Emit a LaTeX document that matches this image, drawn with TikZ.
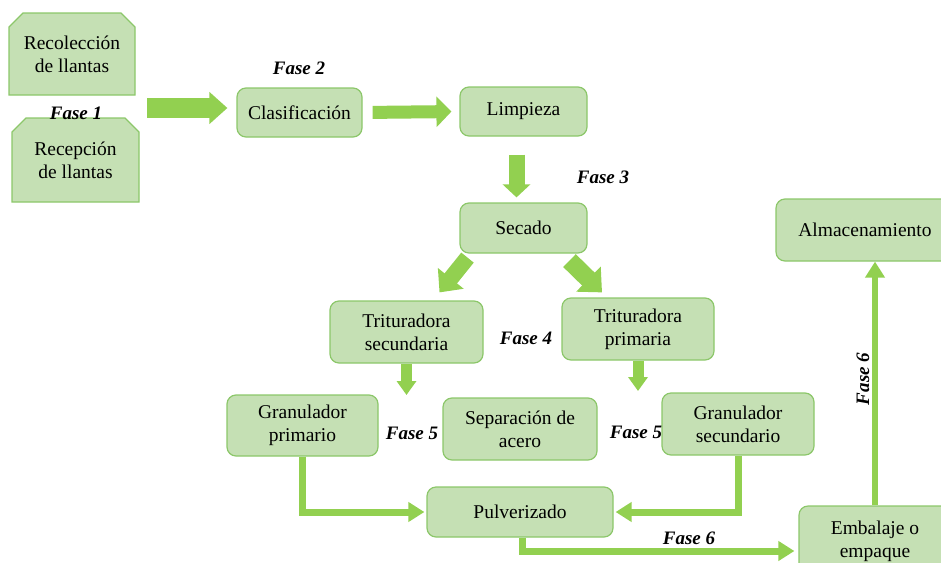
\documentclass[tikz,border=0pt]{standalone}
\usepackage{fontspec}
\setmainfont{Liberation Serif}
\usetikzlibrary{arrows.meta, shapes.misc}
\definecolor{boxfill}{HTML}{C5E0B4}
\definecolor{boxline}{HTML}{8CC76A}
\definecolor{arrowgreen}{HTML}{92D050}

\begin{document}
\begin{tikzpicture}[x=1pt, y=-1pt,
    box/.style={draw=boxline, fill=boxfill, line width=1.2pt, rounded corners=9pt, align=center, inner sep=0pt, font=\fontsize{19.5}{23}\selectfont},
    snipbox/.style={draw=boxline, fill=boxfill, line width=1.2pt, chamfered rectangle, chamfered rectangle corners={north west, north east}, chamfered rectangle xsep=11pt, align=center, inner sep=0pt, font=\fontsize{19.5}{23}\selectfont},
    fase/.style={font=\fontsize{19}{22}\selectfont\bfseries\itshape, inner sep=0pt},
    fat/.style n args={3}{draw=arrowgreen, line width=#1, -{Triangle[width=#2, length=#3]}},
    flow/.style={draw=arrowgreen, line width=7pt, -{Triangle[width=19pt, length=16pt]}}
    ]
    % Fix the page and cut the boxes that run over the edge
    \useasboundingbox (0,0) rectangle (941,562);
    \clip (0,0) rectangle (941,562);

    % Draw the boxes
    \node[snipbox, minimum width=126pt, minimum height=82pt] (recol) at (72,54) {Recolección\\de llantas};
    \node[snipbox, minimum width=127pt, minimum height=84pt] (recep) at (75.5,160) {Recepción\\de llantas};
    \node[box, minimum width=125pt, minimum height=49pt] (cla) at (299.5,112.5) {Clasificación};
    \node[box, minimum width=127pt, minimum height=49pt] (lim) at (523.5,111.5) {Limpieza};
    \node[box, minimum width=127pt, minimum height=50pt] (sec) at (523.5,228) {Secado};
    \node[box, minimum width=153pt, minimum height=62pt] (tsec) at (406.5,332) {Trituradora\\secundaria};
    \node[box, minimum width=152pt, minimum height=62pt] (tpri) at (638,329) {Trituradora\\primaria};
    \node[box, minimum width=151pt, minimum height=61pt] (gpri) at (302.5,425.5) {Granulador\\primario};
    \node[box, minimum width=154pt, minimum height=62pt] (sep) at (520,429) {Separación de\\acero};
    \node[box, minimum width=152pt, minimum height=62pt] (gsec) at (738,424) {Granulador\\secundario};
    \node[box, minimum width=186pt, minimum height=50pt] (pul) at (520,512) {Pulverizado};
    \node[box, minimum width=152pt, minimum height=70pt] (emb) at (875,541) {Embalaje o\\empaque};
    \node[box, minimum width=178pt, minimum height=62pt] (alm) at (865,230) {Almacenamiento};

    % Phase labels
    \node[fase] (f1) at (76,113) {Fase 1};
    \node[fase] (f2) at (299,68) {Fase 2};
    \node[fase] (f3) at (603,177) {Fase 3};
    \node[fase] (f4) at (526,338) {Fase 4};
    \node[fase] (f5a) at (412,433) {Fase 5};
    \node[fase] (f5b) at (636,432) {Fase 5};
    \node[fase] (f6a) at (689,538) {Fase 6};
    \node[fase, rotate=90] (f6b) at (863,379) {Fase 6};

    % Draw the fat arrows
    \coordinate (start) at (147,108);
    \coordinate (tsecout) at (406.5,395);
    \coordinate (tpriout) at (638,391);
    \draw[fat={20pt}{31pt}{18pt}, shorten >=9pt] (start) -- (cla.west |- start);
    \draw[fat={13pt}{30pt}{15pt}, shorten <=10pt, shorten >=8pt] (cla.east) -- (lim.west);
    \draw[fat={16pt}{27pt}{13pt}, shorten <=18pt, shorten >=5pt] ([xshift=-7pt]lim.south) -- ([xshift=-7pt]sec.north);
    \draw[fat={16pt}{32pt}{18pt}] ([xshift=-56pt, yshift=-4pt]sec.south) -- ([xshift=33pt, yshift=8pt]tsec.north);
    \draw[fat={18pt}{34pt}{19pt}] ([xshift=46pt, yshift=-7pt]sec.south) -- ([xshift=-36pt, yshift=5pt]tpri.north);
    \draw[fat={11pt}{19pt}{14pt}] (tsec.south) -- (tsecout);
    \draw[fat={11pt}{19pt}{14pt}] (tpri.south) -- (tpriout);

    % Draw the flow lines
    \draw[flow, shorten >=2pt] (gpri.south) |- (pul.west);
    \draw[flow, shorten >=2pt] (gsec.south) |- (pul.east);
    \draw[flow, shorten >=4pt] ([xshift=2pt]pul.south) |- ([yshift=-10pt]emb.west);
    \draw[flow, line width=5.5pt] (emb.north) -- (emb.north |- alm.south);
\end{tikzpicture}
\end{document}
